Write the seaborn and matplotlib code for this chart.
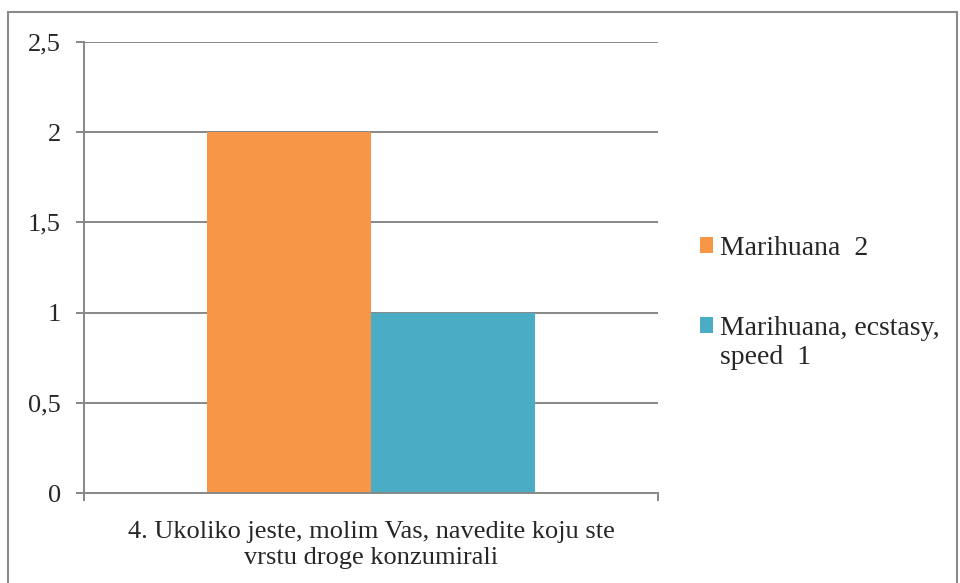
import matplotlib
matplotlib.use("Agg")
import matplotlib.pyplot as plt
import seaborn as sns
import pandas as pd
from matplotlib.patches import Rectangle
from matplotlib.ticker import FuncFormatter

category = ["4. Ukoliko jeste, molim Vas, navedite koju ste\nvrstu droge konzumirali"]
series = ["Marihuana  2", "Marihuana, ecstasy, speed  1"]
values = [2, 1]
colors = ["#F79646", "#4BACC6"]

df = pd.DataFrame({"cat": category * len(series), "series": series, "value": values})

sns.set_style("white")
plt.rcParams["font.family"] = ["Liberation Serif", "DejaVu Serif"]

FS = 19
LFS = 20
fig = plt.figure(figsize=(9.6, 5.83), dpi=100)
ax = fig.add_axes([84/960, 90/583, (658-84)/960, (493-42)/583])

sns.barplot(data=df, x="cat", y="value", hue="series", palette=colors,
            width=0.571, ax=ax, saturation=1, legend=True, linewidth=0)

ax.set_ylim(0, 2.5)
ax.set_yticks([0, 0.5, 1, 1.5, 2, 2.5])
ax.yaxis.set_major_formatter(FuncFormatter(lambda v, p: ("%g" % v).replace(".", ",")))
ax.set_xlim(-0.5, 0.5)
ax.set_xticks([-0.5, 0.5], labels=["", ""])
ax.set_xlabel(category[0], fontsize=FS, labelpad=11, linespacing=1.25)
ax.set_ylabel("")
grid_c = "#878787"
for y in [0.5, 1, 1.5, 2, 2.5]:
    ax.axhline(y, color=grid_c, lw=1.4, zorder=0)
ax.set_axisbelow(True)
for s in ["top", "right"]:
    ax.spines[s].set_visible(False)
for s in ["left", "bottom"]:
    ax.spines[s].set_color(grid_c)
    ax.spines[s].set_linewidth(1.4)
ax.tick_params(axis="y", length=5.8, width=1.4, color=grid_c, labelsize=FS, pad=11, direction="out", left=True)
ax.tick_params(axis="x", length=5.8, width=1.4, color=grid_c, direction="out", bottom=True)

handles, labels = ax.get_legend_handles_labels()
ax.get_legend().remove()
# legend: second label wraps onto a second line with the marker aligned to the first line
first_lines = [labels[0], "Marihuana, ecstasy,"]
fig.legend(handles, first_lines, loc="upper left", bbox_to_anchor=(700/960, 1 - 236/583),
           frameon=False, fontsize=LFS, handlelength=0.47, handleheight=0.47,
           handletextpad=0.25, labelspacing=1.98, borderpad=0, borderaxespad=0)
fig.text(720/960, 1 - 357/583, "speed  1", fontsize=LFS, va="center", ha="left")

fig.patches.append(Rectangle((8/960, -0.05), 949/960, 1.05 - 12/583, transform=fig.transFigure,
                             fill=False, edgecolor="#8a8a8a", lw=1.5))

fig.savefig("out.png", dpi=100)
